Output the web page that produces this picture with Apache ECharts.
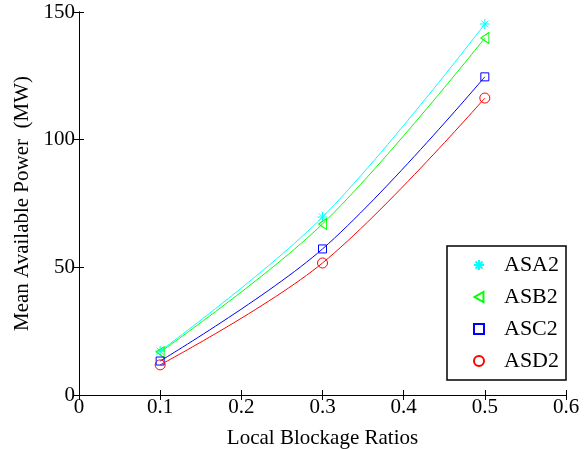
<!DOCTYPE html>
<html>
<head>
<meta charset="utf-8">
<script src="https://cdn.jsdelivr.net/npm/echarts@6/dist/echarts.min.js"></script>
<style>
html,body{margin:0;padding:0;background:#fff;}
#chart{width:586px;height:449px;}
</style>
</head>
<body>
<div id="chart"></div>
<script>
var ratios = [0.1, 0.3, 0.5];
var seriesNames = ['ASA2', 'ASB2', 'ASC2', 'ASD2'];
var ASA2 = [17.2, 69.7, 145.3];
var ASB2 = [16.8, 67.0, 139.8];
var ASC2 = [13.3, 57.2, 124.6];
var ASD2 = [11.8, 51.7, 116.3];
var xTicks = [0, 0.1, 0.2, 0.3, 0.4, 0.5, 0.6];
var yTicks = [0, 50, 100, 150];

var values = [ASA2, ASB2, ASC2, ASD2];
var colors = ['#00ffff', '#00ff00', '#0000ff', '#ff0000'];
var symbols = [
  'path://M0,-10 L0,10 M-10,0 L10,0 M-7,-7 L7,7 M-7,7 L7,-7',
  'path://M8,-9 L8,9 L-8,0 Z',
  'path://M-8,-8 L8,-8 L8,8 L-8,8 Z',
  'circle'
];
var sizes = [[10, 10], [9, 11], [8, 8], [10, 10]];

var FONT = 'Liberation Serif, Times New Roman, serif';

function pairs(arr) {
  return ratios.map(function (x, i) { return [x, arr[i]]; });
}

var series = [];
values.forEach(function (arr, k) {
  series.push({
    name: seriesNames[k] + ' fit',
    type: 'line',
    data: pairs(arr),
    smooth: 0.35,
    showSymbol: false,
    symbol: 'none',
    lineStyle: { color: colors[k], width: 1 },
    itemStyle: { color: colors[k] },
    z: 2,
    silent: true
  });
});
values.forEach(function (arr, k) {
  series.push({
    name: seriesNames[k],
    type: 'scatter',
    data: pairs(arr),
    symbol: symbols[k],
    symbolSize: sizes[k],
    symbolKeepAspect: true,
    itemStyle: { color: 'rgba(255,255,255,0)', borderColor: colors[k], borderWidth: 1, opacity: 1 },
    z: 3
  });
});

var axisCommon = {
  axisLine: { show: true, lineStyle: { color: '#000', width: 1 } },
  axisTick: { show: true, inside: true, length: 5, lineStyle: { color: '#000', width: 1 } },
  splitLine: { show: false }
};

var option = {
  animation: false,
  backgroundColor: '#fff',
  grid: { left: 79, right: 20, top: 12, bottom: 54, containLabel: false, outerBoundsMode: 'none' },
  xAxis: [
    Object.assign({}, axisCommon, {
      type: 'value', min: 0, max: 0.6, interval: 0.1, position: 'bottom',
      name: 'Local Blockage Ratios', nameLocation: 'middle', nameGap: 33,
      nameTextStyle: { fontFamily: FONT, fontSize: 21, color: '#000' },
      axisLabel: {
        fontFamily: FONT, fontSize: 21, color: '#000', margin: 2,
        formatter: function (v) {
          var i = xTicks.findIndex(function (t) { return Math.abs(t - v) < 1e-9; });
          return i >= 0 ? String(xTicks[i]) : '';
        }
      }
    }),
    Object.assign({}, axisCommon, {
      type: 'value', min: 0, max: 0.6, interval: 0.1, position: 'top',
      axisLabel: { show: false }
    })
  ],
  yAxis: [
    Object.assign({}, axisCommon, {
      type: 'value', min: 0, max: 150, interval: 50, position: 'left',
      name: 'Mean Available Power  (MW)', nameLocation: 'middle', nameGap: 43, nameRotate: 90,
      nameTextStyle: { fontFamily: FONT, fontSize: 21, color: '#000' },
      axisLabel: {
        fontFamily: FONT, fontSize: 21, color: '#000', margin: 4,
        formatter: function (v) {
          var i = yTicks.indexOf(v);
          return i >= 0 ? String(yTicks[i]) : '';
        }
      }
    }),
    Object.assign({}, axisCommon, {
      type: 'value', min: 0, max: 150, interval: 50, position: 'right',
      axisLabel: { show: false }
    })
  ],
  legend: {
    orient: 'vertical',
    left: 473,
    top: 254,
    padding: 0,
    itemWidth: 10,
    itemHeight: 10,
    itemGap: 10,
    selectedMode: false,
    z: 20,
    data: seriesNames,
    textStyle: { fontFamily: FONT, fontSize: 22, color: '#000', padding: [0, 0, 0, 15] }
  },
  graphic: [{
    type: 'rect',
    shape: { x: 447, y: 246, width: 119, height: 134 },
    style: { fill: '#fff', stroke: '#000', lineWidth: 1.5 },
    z: 10
  }],
  series: series
};

var chart = echarts.init(document.getElementById('chart'), null, { renderer: 'canvas' });
chart.setOption(option);
</script>
</body>
</html>
